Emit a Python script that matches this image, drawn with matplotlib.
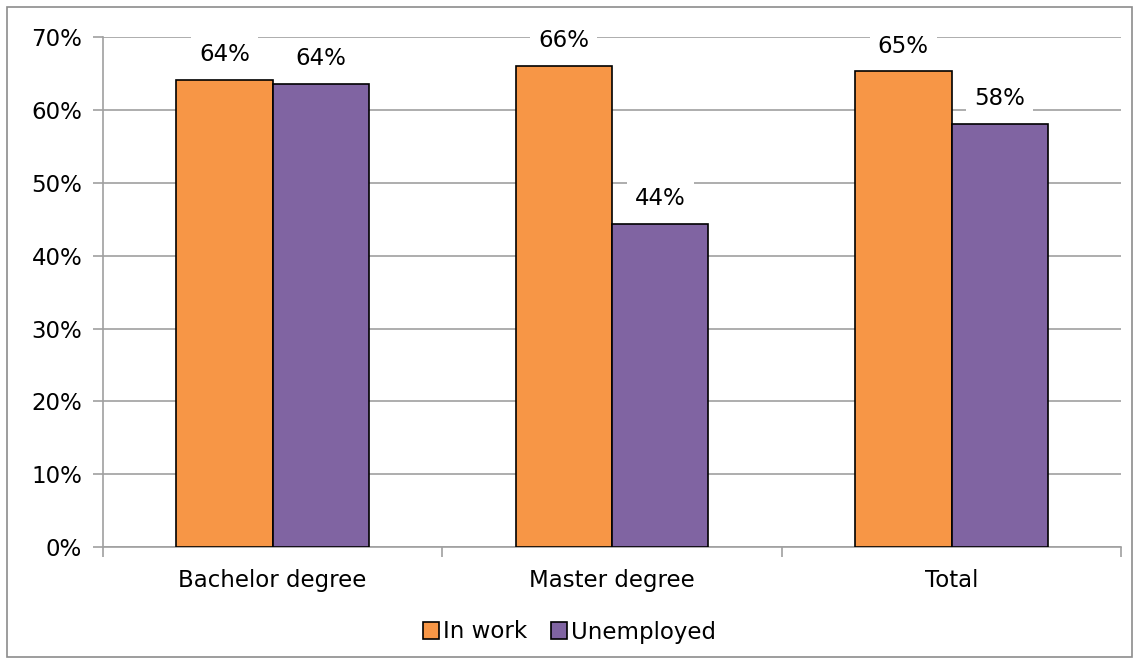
import numpy as np
import matplotlib.pyplot as plt
from matplotlib.patches import Rectangle

categories = ['Bachelor degree', 'Master degree', 'Total']
in_work = [64.1, 66.0, 65.3]
unemployed = [63.6, 44.4, 58.1]
series_names = ['In work', 'Unemployed']
labels_in_work = ['64%', '66%', '65%']
labels_unemployed = ['64%', '44%', '58%']

orange = '#f79646'
purple = '#8064a2'
grid_col = '#a0a0a0'

plt.rcParams['font.family'] = ['DejaVu Sans']

fig = plt.figure(figsize=(11.39, 6.64), dpi=100)
ax = fig.add_axes([0.0904, 0.176, 0.894, 0.768])

# rahmen um die ganze grafik
fig.patches.append(Rectangle((7 / 1139, 7 / 664), 1125 / 1139, 650 / 664,
                             transform=fig.transFigure, fill=False,
                             edgecolor='#8c8c8c', linewidth=1.2))

x = np.arange(len(categories))
w = 0.284
b1 = ax.bar(x - w / 2, in_work, w, color=orange, edgecolor='black', linewidth=1.2,
            label=series_names[0], zorder=3)
b2 = ax.bar(x + w / 2, unemployed, w, color=purple, edgecolor='black', linewidth=1.2,
            label=series_names[1], zorder=3)

fs = 16.5
for bars, labs in [(b1, labels_in_work), (b2, labels_unemployed)]:
    for rect, lab in zip(bars, labs):
        ax.annotate(lab, (rect.get_x() + rect.get_width() / 2, rect.get_height()),
                    xytext=(0, 10), textcoords='offset points', ha='center', va='bottom',
                    fontsize=fs, zorder=4,
                    bbox=dict(boxstyle='square,pad=0.35', fc='white', ec='none'))

ax.set_xlim(-0.5, 2.5)
ax.set_ylim(0, 70)
ax.set_yticks(np.arange(0, 71, 10))
ax.set_yticklabels([f'{v}%' for v in range(0, 71, 10)], fontsize=fs)
ax.set_xticks(x)
ax.set_xticklabels(categories, fontsize=fs)
ax.tick_params(axis='x', length=0, pad=16)
ax.set_xticks([-0.5, 0.5, 1.5, 2.5], minor=True)
ax.tick_params(axis='x', which='minor', length=7, color=grid_col, width=1.2)
ax.tick_params(axis='y', length=7, color=grid_col, width=1.2, pad=8)

ax.yaxis.grid(True, color=grid_col, linewidth=1.2, zorder=0)
ax.set_axisbelow(True)
for s in ['top', 'right']:
    ax.spines[s].set_visible(False)
for s in ['left', 'bottom']:
    ax.spines[s].set_color(grid_col)
    ax.spines[s].set_linewidth(1.2)

fig.legend(handles=[b1, b2], loc='center', bbox_to_anchor=(0.5, 1 - 632 / 664), ncol=2,
           frameon=False, fontsize=fs, handlelength=0.7, handleheight=0.7,
           handletextpad=0.2, columnspacing=1.0)

fig.savefig('out.png', dpi=100)
